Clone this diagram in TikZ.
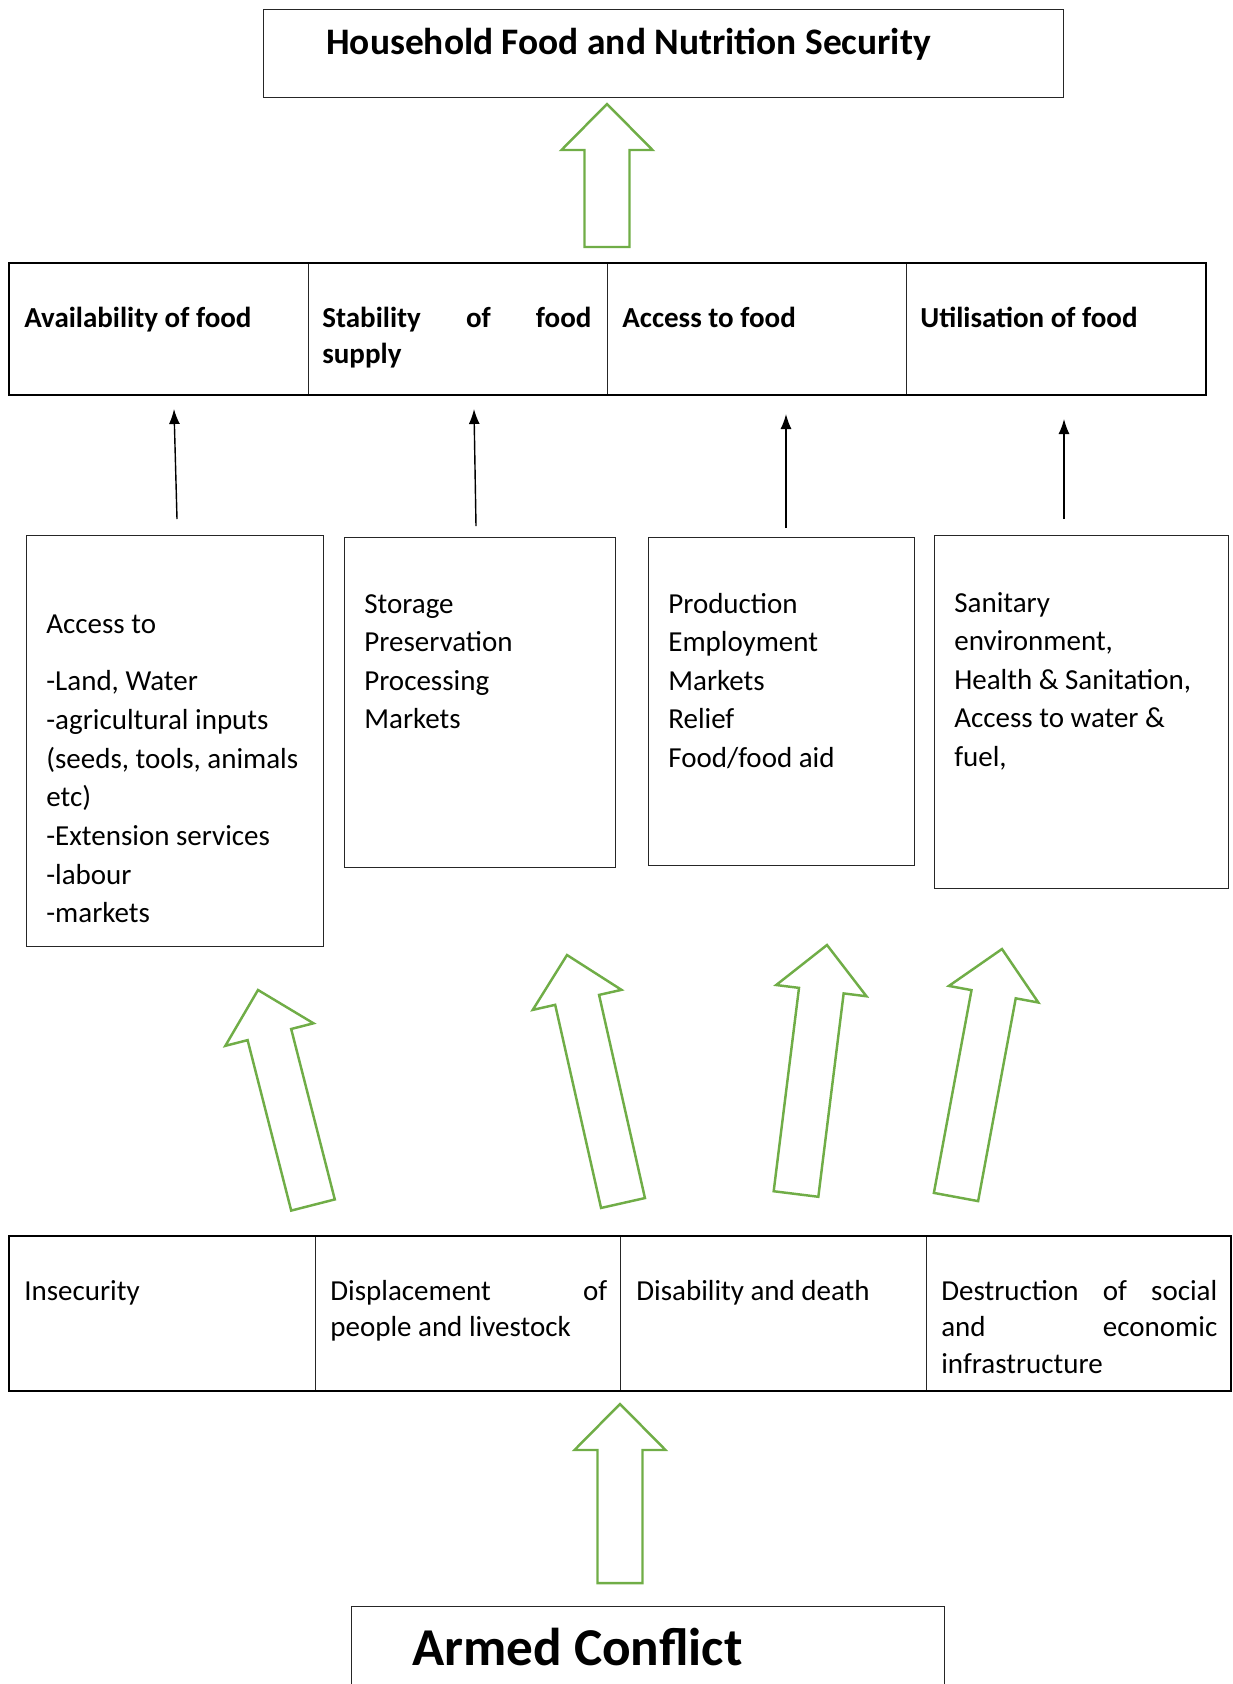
\documentclass[tikz,border=0pt]{standalone}
\usepackage{fontspec}
\setmainfont{Carlito}
\usetikzlibrary{calc,arrows.meta}
\definecolor{arrowgreen}{RGB}{112,173,71}

\tikzset{
  box/.style={draw=black!85, line width=0.7pt, anchor=north west, inner sep=0pt},
  txt/.style={anchor=base west, inner sep=0pt, text width=5.3cm, align=flush left, font=\fontsize{16.5}{22}\selectfont},
  rowtxt/.style={anchor=base west, inner sep=0pt, align=flush left, font=\fontsize{16.5}{20.8}\selectfont},
  pillartxt/.style={rowtxt, font=\bfseries\fontsize{16.5}{20.8}\selectfont},
  thinarrow/.style={line width=0.8pt, -{Latex[length=0.3cm,width=0.22cm]}},
  blockarrow/.style={draw=arrowgreen, line width=1.4pt, line join=miter}
}

% #1 tail, #2 tip
\newcommand{\bigarrow}[2]{%
  \coordinate (hb) at ($(#2)!0.92cm!(#1)$);
  \draw[blockarrow] ($(#1)!0.45cm!90:(#2)$) -- ($(hb)!0.45cm!90:(#2)$)
    -- ($(hb)!0.91cm!90:(#2)$) -- (#2) -- ($(hb)!0.91cm!-90:(#2)$)
    -- ($(hb)!0.45cm!-90:(#2)$) -- ($(#1)!0.45cm!-90:(#2)$) -- cycle;}

\begin{document}
\begin{tikzpicture}[x=0.02cm, y=-0.02cm]
\useasboundingbox (0,0) rectangle (1232,1684);

% goal
\node[box, minimum width=16cm, minimum height=1.76cm] (goal) at (263,9) {};
\node[anchor=base west, inner sep=0pt, font=\bfseries\fontsize{21.3}{25}\selectfont] (goalT) at (326,54) {Household Food and Nutrition Security};

% pillars
\node[box, minimum width=5.98cm, minimum height=2.62cm] (avail) at (9,263) {};
\node[box, minimum width=5.98cm, minimum height=2.62cm] (stab) at (308,263) {};
\node[box, minimum width=5.98cm, minimum height=2.62cm] (access) at (607,263) {};
\node[box, minimum width=5.98cm, minimum height=2.62cm] (util) at (906,263) {};
\draw[line width=1.2pt] (avail.north west) rectangle (util.south east);
\node[pillartxt] (availT) at (24,327) {Availability of food};
\node[pillartxt, text width=5.38cm] (stabT) at (322,327) {Stability\hfill of\hfill food\\supply};
\node[pillartxt] (accessT) at (622,327) {Access to food};
\node[pillartxt] (utilT) at (920,327) {Utilisation of food};

% determinants
\node[box, minimum width=5.94cm, minimum height=8.22cm] (inputs) at (26,535) {};
\node[box, minimum width=5.42cm, minimum height=6.6cm] (storage) at (344,537) {};
\node[box, minimum width=5.32cm, minimum height=6.56cm] (income) at (648,537) {};
\node[box, minimum width=5.88cm, minimum height=7.06cm] (health) at (934,535) {};
\node[txt, text width=5.45cm] (inputsT) at (46,633) {Access to\\[11pt]-Land, Water\\-agricultural inputs\\(seeds, tools, animals\\etc)\\-Extension services\\-labour\\-markets};
\node[txt] (storageT) at (364,613) {Storage\\Preservation\\Processing\\Markets};
\node[txt] (incomeT) at (668,613) {Production\\Employment\\Markets\\Relief\\Food/food aid};
\node[txt] (healthT) at (954,612) {Sanitary\\environment,\\Health \& Sanitation,\\Access to water \&\\fuel,};

% black arrows
\coordinate (a1) at (177,519); \coordinate (e1) at (174,409);
\coordinate (a2) at (476,526); \coordinate (e2) at (474,409);
\coordinate (a3) at (786,528); \coordinate (e3) at (786,414);
\coordinate (a4) at (1064,519); \coordinate (e4) at (1064,419);
\draw[thinarrow] (a1) -- (e1);
\draw[thinarrow] (a2) -- (e2);
\draw[thinarrow] (a3) -- (e3);
\draw[thinarrow] (a4) -- (e4);

% effects
\node[box, minimum width=6.12cm, minimum height=3.08cm] (insec) at (9,1236) {};
\node[box, minimum width=6.1cm, minimum height=3.08cm] (displ) at (315,1236) {};
\node[box, minimum width=6.12cm, minimum height=3.08cm] (death) at (620,1236) {};
\node[box, minimum width=6.08cm, minimum height=3.08cm] (destr) at (926,1236) {};
\draw[line width=1.2pt] (insec.north west) rectangle (destr.south east);
\node[rowtxt] (insecT) at (24,1300) {Insecurity};
\node[rowtxt, text width=5.54cm] (displT) at (330,1300) {Displacement\hfill of\\people and livestock};
\node[rowtxt] (deathT) at (636,1300) {Disability and death};
\node[rowtxt, text width=5.52cm] (destrT) at (941,1300) {Destruction\hfill of\hfill social\\and\hfill economic\\infrastructure};

% conflict
\node[box, minimum width=11.86cm, minimum height=2cm] (conflict) at (351,1606) {};
\node[anchor=base west, inner sep=0pt, font=\bfseries\fontsize{30.3}{36}\selectfont] (conflictT) at (412,1665) {Armed Conflict};

% green arrows
\bigarrow{607,247}{607,104}
\bigarrow{313,1205}{258,990}
\bigarrow{623,1203}{567,955}
\bigarrow{796,1194}{827,945}
\bigarrow{956,1197}{1002,949}
\bigarrow{620,1583}{620,1404}
\end{tikzpicture}
\end{document}
